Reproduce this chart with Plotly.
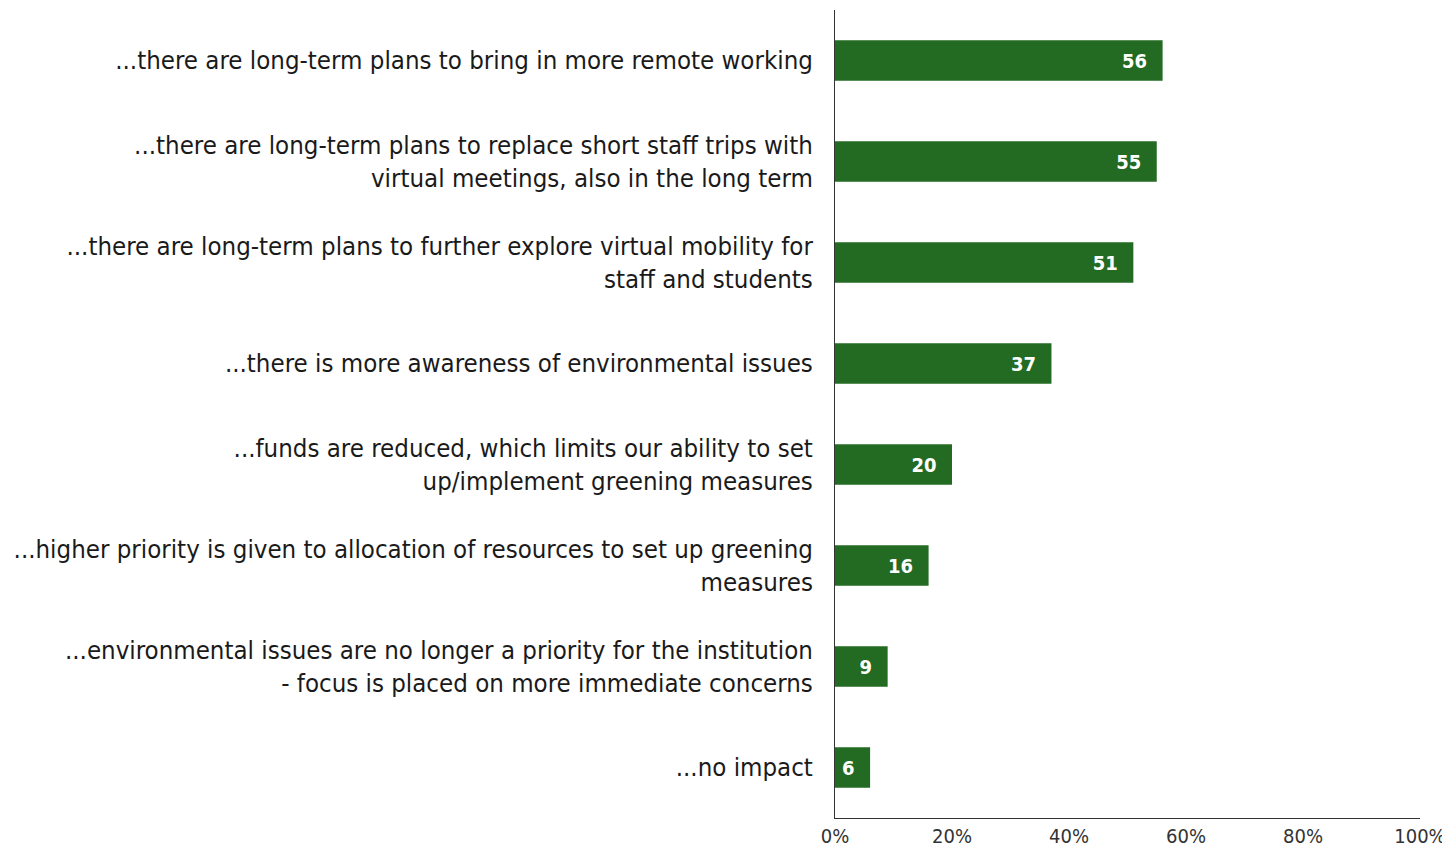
import plotly.graph_objects as go

categories = [
    "...there are long-term plans to bring in more remote working",
    "...there are long-term plans to replace short staff trips with<br>virtual meetings, also in the long term",
    "...there are long-term plans to further explore virtual mobility for<br>staff and students",
    "...there is more awareness of environmental issues",
    "...funds are reduced, which limits our ability to set<br>up/implement greening measures",
    "...higher priority is given to allocation of resources to set up greening<br>measures",
    "...environmental issues are no longer a priority for the institution<br>- focus is placed on more immediate concerns",
    "...no impact",
]
values = [56, 55, 51, 37, 20, 16, 9, 6]
x_ticks = [0, 20, 40, 60, 80, 100]
x_tick_labels = ["0%", "20%", "40%", "60%", "80%", "100%"]

FONT = "Liberation Sans Narrow, DejaVu Sans Condensed, sans-serif"

fig = go.Figure(go.Bar(
    y=categories,
    x=values,
    orientation="h",
    width=0.4,
    marker=dict(color="#236a22", line=dict(width=0)),
    text=[str(v) + "\u00a0\u00a0" for v in values],
    textposition="inside",
    insidetextanchor="end",
    textfont=dict(family=FONT, size=20, color="white", weight="bold"),
    textangle=0,
))

fig.update_layout(
    width=1450, height=847,
    margin=dict(l=827, r=38, t=2, b=37),
    paper_bgcolor="white", plot_bgcolor="white",
    showlegend=False,
    font=dict(family=FONT, color="#1a1a1a"),
)
fig.update_yaxes(
    autorange="reversed", automargin=False,
    showline=True, linecolor="#333333", linewidth=1,
    showgrid=False, ticks="", ticklabelstandoff=16,
    tickfont=dict(family=FONT, size=25.6, color="#1a1a1a"),
)
fig.update_xaxes(
    range=[0, 100], automargin=False,
    tickvals=x_ticks, ticktext=x_tick_labels,
    showline=True, linecolor="#333333", linewidth=1,
    showgrid=False, zeroline=False, ticks="",
    tickfont=dict(family=FONT, size=20, color="#333333"),
)

fig.write_html("out.html")
